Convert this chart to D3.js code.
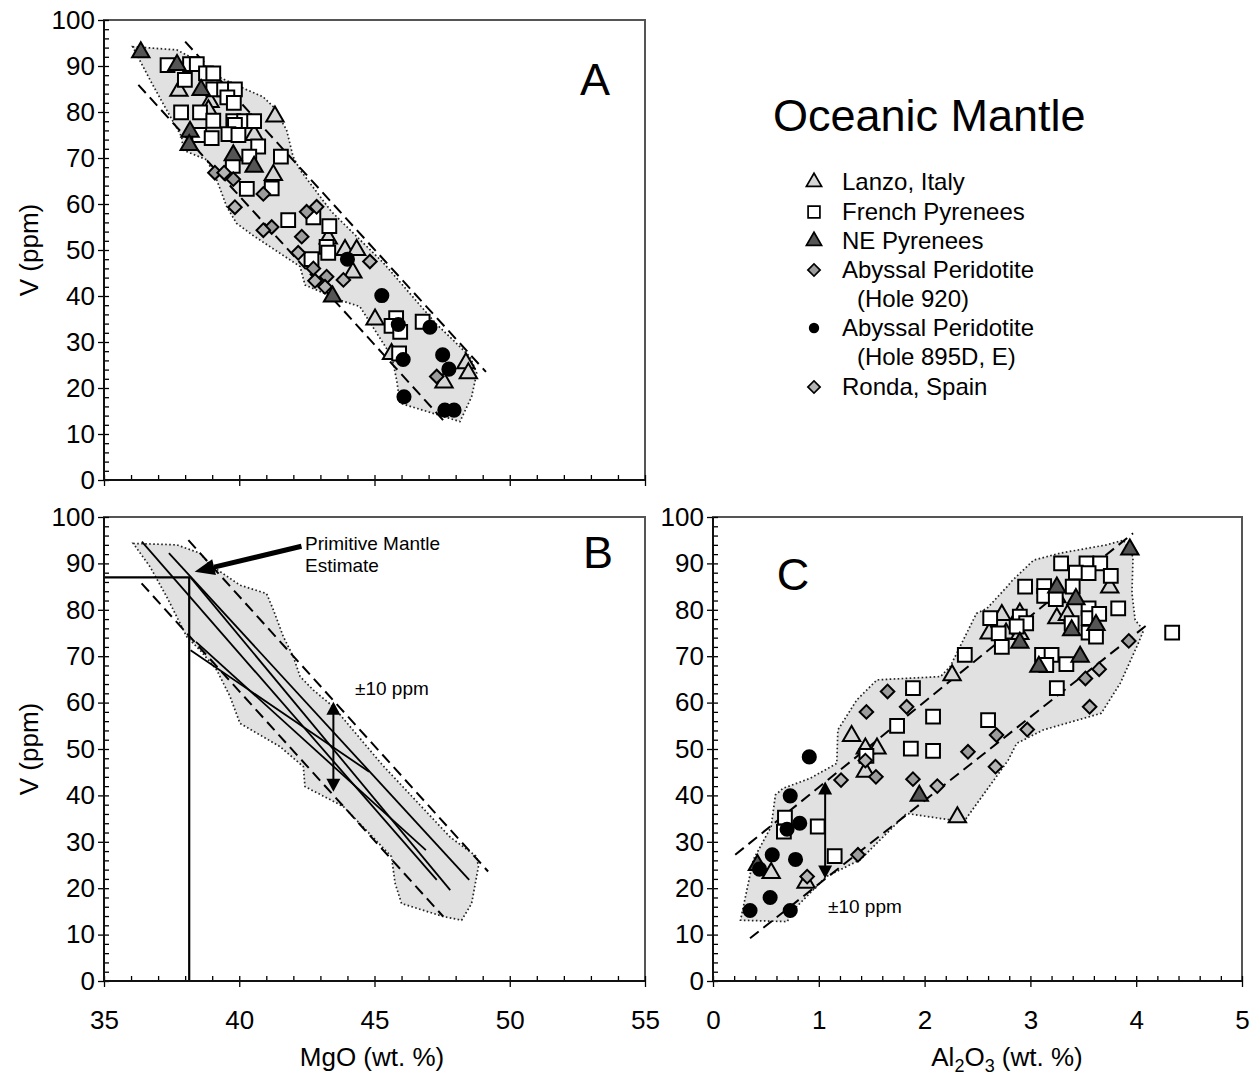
<!DOCTYPE html>
<html>
<head>
<meta charset="utf-8">
<script src="https://cdn.jsdelivr.net/npm/d3@7"></script>
<style>
  body { margin: 0; background: #fff; }
  text { font-family: "Liberation Sans", Arial, Helvetica, sans-serif; }
</style>
</head>
<body>
<svg id="fig" width="1257" height="1077"></svg>
<script>
// ---------- data: [MgO or Al2O3 (wt. %), V (ppm)] ----------
var aLanzo = [[37.77,84.6],[38.92,82.2],[38.86,80.4],[41.32,79.0],[40.55,75.0],[41.26,66.3],[43.29,52.5],
  [43.91,50.0],[44.34,50.0],[44.2,45.1],[45.02,34.9],[45.63,27.4],[47.57,21.2],[48.38,25.4],[48.47,23.2]];
var aFrench = [[37.35,90.2],[38.18,90.4],[38.43,90.4],[38.77,88.4],[39.04,88.4],[37.99,87.0],[39.04,84.9],
  [39.44,84.9],[39.84,84.9],[39.56,83.2],[39.8,82.0],[37.85,79.9],[38.55,79.9],[39.04,78.1],[39.78,78.0],
  [40.18,78.0],[40.55,78.0],[39.84,77.2],[38.52,75.0],[38.98,74.3],[39.6,75.2],[39.97,75.0],[40.7,72.5],
  [39.76,68.3],[40.37,70.3],[41.54,70.3],[41.2,63.4],[40.28,63.3],[41.81,56.5],[42.74,57.1],[43.33,55.2],
  [43.23,50.7],[43.29,49.4],[42.67,48.0],[45.8,35.2],[45.63,33.5],[45.95,32.2],[46.78,34.4],[45.91,27.5]];
var aNE = [[36.36,93.0],[37.7,90.2],[38.59,84.8],[38.18,75.7],[38.15,72.8],[39.78,70.6],[40.55,68.1],[43.45,39.9]];
var a920 = [[39.1,66.8],[39.78,65.4],[40.89,62.2],[42.49,58.3],[42.31,52.9],[42.74,46.0],[43.23,44.2],[47.3,22.5],[41.2,55.0]];
var a895 = [[44.0,48.0],[45.27,40.1],[45.88,33.8],[47.05,33.2],[46.06,26.2],[47.52,27.2],[47.75,24.1],[46.09,18.1],[47.6,15.2],[47.94,15.2]];
var aRonda = [[39.44,66.8],[39.84,59.3],[42.86,59.4],[40.89,54.3],[42.18,49.4],[44.83,47.5],[43.85,43.5],[42.8,43.3],[43.17,42.0]];

var cLanzo = [[3.75,84.8],[2.73,78.9],[2.90,79.2],[2.61,74.9],[2.77,74.9],[2.90,74.8],[3.25,82.7],[3.25,78.2],
  [3.35,78.9],[2.26,65.9],[1.31,52.8],[1.44,50.1],[1.55,50.1],[1.44,45.1],[2.31,35.3],[0.55,23.3],[0.88,21.2]];
var cFrench = [[3.29,90.0],[3.53,90.0],[3.66,90.0],[3.43,88.0],[3.55,87.9],[3.76,87.3],[2.95,85.0],[3.13,85.1],
  [3.13,83.0],[3.40,85.0],[3.24,82.3],[3.55,80.3],[3.55,78.2],[3.65,79.1],[3.83,80.3],[2.62,78.2],[2.90,78.5],
  [2.96,77.1],[2.70,74.9],[2.87,76.4],[2.73,72.0],[3.39,77.1],[3.55,75.1],[3.62,74.2],[4.34,75.1],[3.11,70.3],
  [3.20,70.3],[3.15,68.1],[3.34,68.3],[2.38,70.3],[3.25,63.1],[2.60,56.2],[1.89,63.1],[2.08,57.0],[1.74,55.0],
  [1.87,50.1],[2.08,49.6],[1.45,48.5],[0.68,35.2],[0.67,32.2],[0.99,33.3],[1.15,26.9]];
var cNE = [[3.94,93.0],[3.25,84.8],[3.43,82.3],[2.90,72.9],[3.39,75.6],[3.62,76.7],[3.47,69.9],[3.08,67.7],[1.95,39.9],[0.42,25.0]];
var c920 = [[3.93,73.3],[3.52,65.2],[2.68,53.0],[2.41,49.4],[1.65,62.4],[1.45,58.0],[1.54,44.0],[1.89,43.5],[1.37,27.2]];
var c895 = [[0.91,48.3],[0.73,39.9],[0.70,32.7],[0.82,34.0],[0.56,27.2],[0.78,26.2],[0.44,24.1],[0.54,18.0],[0.35,15.2],[0.73,15.2]];
var cRonda = [[3.65,67.2],[3.56,59.1],[2.97,54.2],[1.83,59.1],[1.44,47.5],[2.67,46.2],[2.12,42.0],[1.21,43.3],[0.89,22.5]];

// shaded envelopes
var aEnvelope = [[36.06,94.2],[37.69,93.5],[38.55,90.9],[39.21,87.7],[40.14,85.2],[40.88,83.3],[41.25,81.2],
  [41.75,76.1],[41.99,70.3],[42.25,67.4],[43.4,58.4],[43.95,55.2],[45.33,47.2],[47.3,33.8],[47.91,30.4],
  [48.53,26.8],[48.78,23.2],[48.59,18.1],[48.16,12.7],[45.94,16.7],[45.82,21.7],[45.64,26.8],[44.46,37.7],
  [43.72,39.1],[42.43,42.4],[42.25,46.4],[40.5,53.2],[39.9,55.8],[39.54,59.4],[39.17,65.2],[38.8,69.6],
  [37.93,71.7],[37.87,74.6],[37.32,80.4],[36.7,87.0]];
var bEnvelope = [[36.08,94.3],[37.69,94.0],[38.55,92.2],[38.92,89.7],[40.03,85.3],[41.01,83.5],[41.26,80.0],
  [41.63,74.2],[42.0,69.9],[42.25,65.6],[42.74,62.7],[43.48,59.1],[45.3,46.5],[47.8,31.0],[48.78,26.8],
  [48.84,24.6],[48.59,16.7],[48.22,13.1],[47.54,13.9],[46.0,16.7],[45.76,21.1],[45.63,26.8],[43.85,37.6],
  [42.43,41.9],[42.37,46.2],[41.51,50.5],[40.03,55.5],[39.66,61.3],[39.17,67.0],[38.55,71.3],[38.06,74.2],
  [37.81,77.1],[37.32,82.8],[36.7,89.3]];
var cEnvelope = [[2.82,86.1],[3.03,90.7],[3.28,92.2],[3.72,94.0],[3.88,95.0],[3.97,91.4],[3.96,83.6],[3.99,77.8],
  [4.07,75.6],[4.02,72.8],[3.85,64.2],[3.67,57.7],[3.12,54.1],[2.87,51.2],[2.79,47.6],[2.37,34.3],[1.83,36.1],
  [1.39,26.1],[1.07,22.5],[0.79,16.0],[0.70,12.8],[0.26,13.1],[0.38,26.1],[0.55,33.3],[0.59,40.1],[0.66,41.5],
  [0.92,43.7],[1.17,46.9],[1.18,54.1],[1.36,60.6],[1.55,64.9],[2.15,65.6],[2.24,67.7],[2.49,79.2],[2.59,80.3],[2.78,85.0]];

// dashed bounds and fitted lines
var aDashed = [[[38.0,95.3],[49.12,23.5]], [[36.27,85.9],[47.54,13.0]]];
var bDashed = [[[38.12,95.0],[49.2,23.6]], [[36.39,85.7],[47.54,13.9]]];
var cDashed = [[[0.21,27.2],[3.97,96.5]], [[0.35,9.2],[4.10,76.7]]];
var bFits = [[[36.4,94.7],[47.3,21.8]], [[37.4,92.2],[48.5,21.8]], [[38.2,87.0],[47.8,19.6]],
  [[38.4,73.1],[46.9,28.2]], [[38.2,71.3],[44.8,45.1]]];

var primitiveMgO = 38.15, primitiveV = 87;
var bRange = [43.48, 40.8, 60.2];   // x, low, high
var cRange = [1.06, 22.1, 43.0];
var yTicks = d3.range(0, 101, 10);
var mgoTicks = [35, 40, 45, 50, 55];
var alTicks = [0, 1, 2, 3, 4, 5];

var legendNames = [['Lanzo, Italy'], ['French Pyrenees'], ['NE Pyrenees'], ['Abyssal Peridotite', '(Hole 920)'],
  ['Abyssal Peridotite', '(Hole 895D, E)'], ['Ronda, Spain']];

// ---------- drawing ----------
var svg = d3.select('#fig');

var shapes = {
  tri: d3.symbol(d3.symbolTriangle, 130)(),
  sq: d3.symbol(d3.symbolSquare, 190)(),
  dia: d3.symbol(d3.symbolSquare, 92)(),
  dot: d3.symbol(d3.symbolCircle, 135)()
};
var styles = [
  { shape: 'tri', fill: '#d6d6d6' },
  { shape: 'sq', fill: '#ffffff' },
  { shape: 'tri', fill: '#555555' },
  { shape: 'dia', fill: '#9c9c9c' },
  { shape: 'dot', fill: '#000000' },
  { shape: 'dia', fill: '#b4b4b4' }
];

function marker(sel, st) {
  sel.append('path')
    .attr('d', shapes[st.shape])
    .attr('transform', function () { return st.shape === 'dia' ? 'rotate(45)' : null; })
    .attr('fill', st.fill)
    .attr('stroke', '#000')
    .attr('stroke-width', 2);
}

function panel(p) {
  var x = d3.scaleLinear().domain(p.xDomain).range([p.left, p.right]);
  var y = d3.scaleLinear().domain([0, 100]).range([p.bottom, p.top]);
  var g = svg.append('g');
  var line = d3.line().x(function (d) { return x(d[0]); }).y(function (d) { return y(d[1]); });

  g.append('rect')
    .attr('x', p.left).attr('y', p.top)
    .attr('width', p.right - p.left).attr('height', p.bottom - p.top)
    .attr('fill', '#fff').attr('stroke', '#555').attr('stroke-width', 2);

  var clip = 'clip' + p.id;
  g.append('clipPath').attr('id', clip).append('rect')
    .attr('x', p.left).attr('y', p.top).attr('width', p.right - p.left).attr('height', p.bottom - p.top);
  var inner = g.append('g').attr('clip-path', 'url(#' + clip + ')');

  inner.append('path')
    .attr('d', line(p.envelope) + 'Z')
    .attr('fill', '#e1e1e1')
    .attr('stroke', '#222').attr('stroke-width', 1.7).attr('stroke-dasharray', '1.6,2.4');

  inner.selectAll('path.dash').data(p.dashed).enter().append('path')
    .attr('class', 'dash')
    .attr('d', line)
    .attr('fill', 'none').attr('stroke', '#000').attr('stroke-width', 2).attr('stroke-dasharray', '11,6');

  return { g: g, inner: inner, x: x, y: y, line: line };
}

function points(P, series) {
  series.forEach(function (data, i) {
    var st = styles[i];
    P.inner.selectAll(null).data(data).enter().append('g')
      .attr('transform', function (d) { return 'translate(' + P.x(d[0]) + ',' + P.y(d[1]) + ')'; })
      .each(function () { marker(d3.select(this), st); });
  });
}

function axes(P, p, xTicks, xMinor, showXLabels) {
  var tl = function (s) {
    s.select('.domain').remove();
    s.selectAll('line').attr('stroke', '#000').attr('stroke-width', 1.3);
    s.selectAll('text').attr('font-size', 26).attr('fill', '#000');
  };
  svg.append('g').attr('transform', 'translate(' + p.left + ',0)')
    .call(d3.axisLeft(P.y).tickValues(yTicks).tickSizeInner(6).tickSizeOuter(0).tickPadding(3)).call(tl);
  svg.append('g').attr('transform', 'translate(' + p.left + ',0)')
    .call(d3.axisRight(P.y).tickValues(d3.range(0, 101, 2)).tickSize(5).tickFormat('')).call(tl);
  var xb = d3.axisBottom(P.x).tickValues(xTicks).tickSizeInner(6).tickSizeOuter(0).tickPadding(24)
    .tickFormat(showXLabels ? d3.format('d') : '');
  svg.append('g').attr('transform', 'translate(0,' + p.bottom + ')').call(xb).call(tl);
  svg.append('g').attr('transform', 'translate(0,' + p.bottom + ')')
    .call(d3.axisTop(P.x).tickValues(xMinor).tickSize(5).tickFormat('')).call(tl);
  svg.append('line').attr('x1', p.left).attr('x2', p.left).attr('y1', p.top).attr('y2', p.bottom)
    .attr('stroke', '#111').attr('stroke-width', 2);
  svg.append('line').attr('x1', p.left).attr('x2', p.right).attr('y1', p.bottom).attr('y2', p.bottom)
    .attr('stroke', '#111').attr('stroke-width', 2);
}

function vArrow(P, r) {
  var xx = P.x(r[0]), y1 = P.y(r[1]), y2 = P.y(r[2]);
  P.g.append('line').attr('x1', xx).attr('x2', xx).attr('y1', y1 - 10).attr('y2', y2 + 10)
    .attr('stroke', '#000').attr('stroke-width', 2);
  P.g.append('path').attr('d', 'M' + (xx - 7) + ',' + (y2 + 13) + 'L' + xx + ',' + y2 + 'L' + (xx + 7) + ',' + (y2 + 13) + 'Z');
  P.g.append('path').attr('d', 'M' + (xx - 7) + ',' + (y1 - 13) + 'L' + xx + ',' + y1 + 'L' + (xx + 7) + ',' + (y1 - 13) + 'Z');
}

var mgoMinor = d3.range(35, 55.01, 1);
var alMinor = d3.range(0, 5.001, 0.2);

// ----- panel A -----
var pA = { id: 'A', left: 104, right: 645, top: 20, bottom: 480, xDomain: [35, 55], envelope: aEnvelope, dashed: aDashed };
var A = panel(pA);
points(A, [aLanzo, aFrench, aNE, a920, a895, aRonda]);
axes(A, pA, mgoTicks, mgoMinor, false);

// ----- panel B -----
var pB = { id: 'B', left: 104, right: 645, top: 517, bottom: 981, xDomain: [35, 55], envelope: bEnvelope, dashed: bDashed };
var B = panel(pB);
B.inner.selectAll('path.fit').data(bFits).enter().append('path')
  .attr('class', 'fit').attr('d', B.line)
  .attr('fill', 'none').attr('stroke', '#000').attr('stroke-width', 1.8);
B.g.append('path')
  .attr('d', B.line([[35, primitiveV], [primitiveMgO, primitiveV], [primitiveMgO, 0]]))
  .attr('fill', 'none').attr('stroke', '#000').attr('stroke-width', 2.2);
axes(B, pB, mgoTicks, mgoMinor, true);
vArrow(B, bRange);
// primitive mantle arrow
(function () {
  var tip = [B.x(38.35), B.y(88.2)], tail = [B.x(42.3), B.y(93.7)];
  var ang = Math.atan2(tail[1] - tip[1], tail[0] - tip[0]);
  var L = 20, W = 8;
  var bx = tip[0] + L * Math.cos(ang), by = tip[1] + L * Math.sin(ang);
  B.g.append('line').attr('x1', bx).attr('y1', by).attr('x2', tail[0]).attr('y2', tail[1])
    .attr('stroke', '#000').attr('stroke-width', 5);
  B.g.append('path').attr('d', 'M' + tip[0] + ',' + tip[1] +
    'L' + (bx - W * Math.sin(ang)) + ',' + (by + W * Math.cos(ang)) +
    'L' + (bx + W * Math.sin(ang)) + ',' + (by - W * Math.cos(ang)) + 'Z');
})();
B.g.append('text').attr('x', 305).attr('y', 550).attr('font-size', 19).text('Primitive Mantle');
B.g.append('text').attr('x', 305).attr('y', 572).attr('font-size', 19).text('Estimate');
B.g.append('text').attr('x', 355).attr('y', 695).attr('font-size', 19).text('\u00b110 ppm');

// ----- panel C -----
var pC = { id: 'C', left: 713, right: 1242, top: 517, bottom: 981, xDomain: [0, 5], envelope: cEnvelope, dashed: cDashed };
var C = panel(pC);
points(C, [cLanzo, cFrench, cNE, c920, c895, cRonda]);
axes(C, pC, alTicks, alMinor, true);
vArrow(C, cRange);
C.g.append('text').attr('x', 828).attr('y', 913).attr('font-size', 19).text('\u00b110 ppm');

// panel letters
[['A', 595, 95], ['B', 598, 568], ['C', 793, 590]].forEach(function (d) {
  svg.append('text').attr('x', d[1]).attr('y', d[2]).attr('text-anchor', 'middle')
    .attr('font-size', 45).text(d[0]);
});

// axis titles
[250, 749].forEach(function (cy) {
  svg.append('text').attr('transform', 'translate(38,' + cy + ') rotate(-90)')
    .attr('text-anchor', 'middle').attr('font-size', 26).text('V (ppm)');
});
svg.append('text').attr('x', 372).attr('y', 1066).attr('text-anchor', 'middle').attr('font-size', 26).text('MgO (wt. %)');
var al = svg.append('text').attr('x', 1007).attr('y', 1066).attr('text-anchor', 'middle').attr('font-size', 26);
al.append('tspan').text('Al');
al.append('tspan').attr('dy', 6).attr('font-size', 18).text('2');
al.append('tspan').attr('dy', -6).text('O');
al.append('tspan').attr('dy', 6).attr('font-size', 18).text('3');
al.append('tspan').attr('dy', -6).text(' (wt. %)');

// legend
svg.append('text').attr('x', 773).attr('y', 131).attr('font-size', 45).text('Oceanic Mantle');
var rowY = [182, 212, 241, 270, 328, 387];
legendNames.forEach(function (names, i) {
  var lg = svg.append('g').attr('transform', 'translate(814,' + rowY[i] + ')');
  var st = styles[i];
  lg.append('path')
    .attr('d', st.shape === 'dot' ? d3.symbol(d3.symbolCircle, 85)() :
      st.shape === 'sq' ? d3.symbol(d3.symbolSquare, 140)() :
      st.shape === 'tri' ? d3.symbol(d3.symbolTriangle, 100)() : d3.symbol(d3.symbolSquare, 75)())
    .attr('transform', st.shape === 'dia' ? 'rotate(45)' : null)
    .attr('fill', st.fill).attr('stroke', '#000').attr('stroke-width', st.shape === 'dot' ? 0 : 1.7);
  names.forEach(function (t, j) {
    lg.append('text').attr('x', j ? 43 : 28).attr('y', 8 + j * 29).attr('font-size', 24).text(t);
  });
});
</script>
</body>
</html>
